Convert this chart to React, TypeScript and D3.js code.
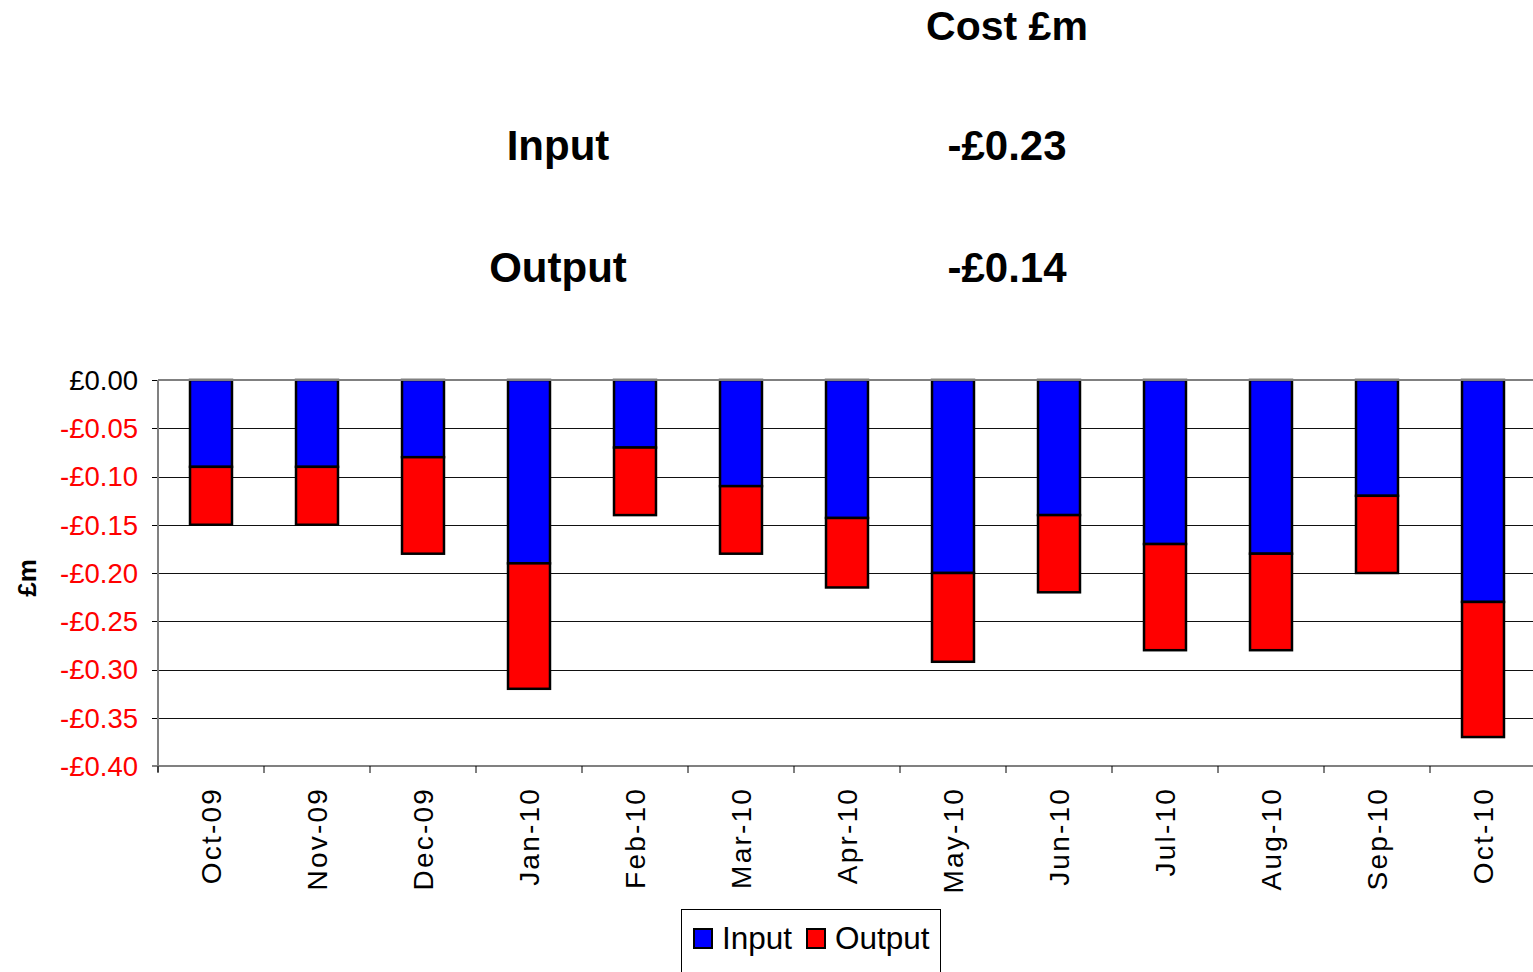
import React from "react";
import * as d3 from "d3";

const categories = ["Oct-09","Nov-09","Dec-09","Jan-10","Feb-10","Mar-10","Apr-10","May-10","Jun-10","Jul-10","Aug-10","Sep-10","Oct-10"];
const inputValues = [-0.09,-0.09,-0.08,-0.19,-0.07,-0.11,-0.143,-0.20,-0.14,-0.17,-0.18,-0.12,-0.23];
const outputValues = [-0.06,-0.06,-0.10,-0.13,-0.07,-0.07,-0.072,-0.092,-0.08,-0.11,-0.10,-0.08,-0.14];
const yTicks = [0,-0.05,-0.10,-0.15,-0.20,-0.25,-0.30,-0.35,-0.40];
const summaryLabels = ["Input","Output"];
const summaryValues = ["-£0.23","-£0.14"];
const seriesNames = ["Input","Output"];
const seriesColors = ["#0000FF","#FF0000"];

const W = 1533, H = 972;
const FONT = "'Liberation Sans', Arial, sans-serif";

export default function App() {
  const left = 158, right = 1536, top = 380, bottom = 766;
  const x = d3.scaleBand<string>().domain(categories).range([left, right]).paddingInner(0.604).paddingOuter(0.302);
  const y = d3.scaleLinear().domain([0, -0.4]).range([top, bottom]);
  const step = x.step();
  const fmt = (v: number) => (v < 0 ? "-" : "") + "£" + Math.abs(v).toFixed(2);

  const stacked = categories.map((c, i) => {
    const a = inputValues[i];
    const b = a + outputValues[i];
    return { c, segs: [[0, a], [a, b]] };
  });

  return (
    <svg width={W} height={H} style={{ position: "fixed", left: 0, top: 0, background: "#fff" }} fontFamily={FONT}>
      {/* header */}
      <text x={1007} y={40} textAnchor="middle" fontSize={41} fontWeight="bold">Cost £m</text>
      {summaryLabels.map((l, i) => (
        <g key={l}>
          <text x={558} y={160 + i * 122} textAnchor="middle" fontSize={42} fontWeight="bold">{l}</text>
          <text x={1007} y={160 + i * 122} textAnchor="middle" fontSize={42} fontWeight="bold">{summaryValues[i]}</text>
        </g>
      ))}

      {/* gridlines */}
      {yTicks.slice(1, -1).map(t => (
        <line key={t} x1={left} x2={W} y1={Math.round(y(t)) + 0.5} y2={Math.round(y(t)) + 0.5} stroke="#111" strokeWidth={1} />
      ))}
      {/* y ticks + labels */}
      {yTicks.map(t => (
        <g key={"t" + t}>
          <line x1={left - 6} x2={left} y1={Math.round(y(t)) + 0.5} y2={Math.round(y(t)) + 0.5} stroke="#000" />
          <text x={138} y={y(t)} dy="0.36em" textAnchor="end" fontSize={27.5} fill={t === 0 ? "#000" : "#FF0000"}>{fmt(t)}</text>
        </g>
      ))}

      {/* bars */}
      {stacked.map(d => d.segs.map((s, k) => (
        <rect key={d.c + k} x={x(d.c)!} width={x.bandwidth()} y={y(s[0])} height={y(s[1]) - y(s[0])}
          fill={seriesColors[k]} stroke="#000" strokeWidth={2.5} />
      )))}

      {/* zero line and axes */}
      <line x1={left} x2={W} y1={y(0)} y2={y(0)} stroke="#808080" strokeWidth={2} />
      <line x1={left} x2={left} y1={top} y2={bottom + 6} stroke="#808080" strokeWidth={2} />
      <line x1={left - 6} x2={W} y1={bottom} y2={bottom} stroke="#808080" strokeWidth={2} />
      {categories.map((c, i) => (
        <line key={"xt" + c} x1={left + i * step} x2={left + i * step} y1={bottom} y2={bottom + 7} stroke="#000" />
      ))}
      {categories.map(c => {
        const cx = x(c)! + x.bandwidth() / 2;
        return (
          <text key={"xl" + c} transform={`translate(${cx + 10},787) rotate(-90)`} textAnchor="end" fontSize={28} letterSpacing={2.2}>{c}</text>
        );
      })}

      {/* y title */}
      <text transform="translate(36,578) rotate(-90)" textAnchor="middle" fontSize={26} fontWeight="bold">£m</text>

      {/* legend */}
      <rect x={681.5} y={909.5} width={259} height={80} fill="#fff" stroke="#000" strokeWidth={1} />
      {seriesNames.map((n, i) => {
        const sx = i === 0 ? 694 : 807;
        return (
          <g key={n}>
            <rect x={sx} y={929} width={18} height={19} fill={seriesColors[i]} stroke="#000" strokeWidth={2} />
            <text x={sx + 28} y={949} fontSize={31.5}>{n}</text>
          </g>
        );
      })}
    </svg>
  );
}
